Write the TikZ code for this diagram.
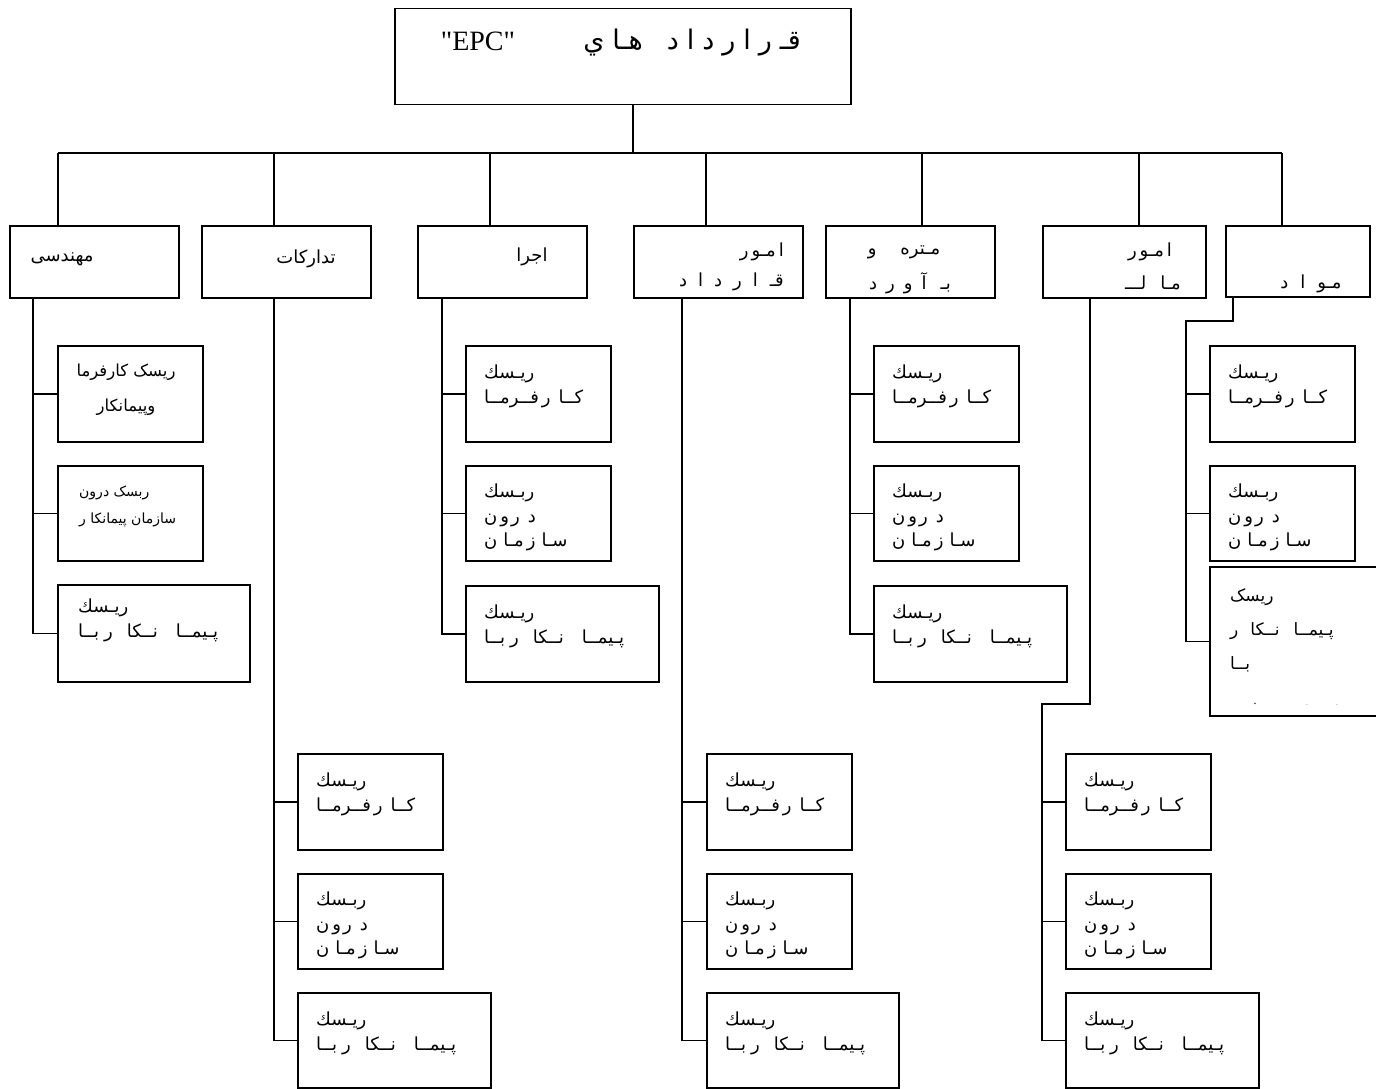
\documentclass[tikz,border=0pt]{standalone}
\usepackage{fontspec}
\setmainfont{Liberation Serif}
\newfontfamily\plainserif[Ligatures=ResetAll]{Liberation Serif}
\newfontfamily\arabicfont[Script=Arabic]{DejaVu Sans}
\TeXXeTstate=1
\usetikzlibrary{calc}
\newcommand\pers[1]{{\arabicfont\beginR #1\endR}}
\newcommand\gp[1][6pt]{\hspace{#1}}
\begin{document}
\begin{tikzpicture}[x=1pt,y=-1pt,
  box/.style={draw,line width=1.5pt,inner sep=0pt,anchor=north west},
  txt/.style={inner sep=0pt,anchor=north west,align=left,font=\arabicfont\fontsize{18}{24.5}\selectfont},
  cat/.style={inner sep=0pt,font=\arabicfont\fontsize{18}{29}\selectfont},
  conn/.style={line width=1.5pt}]
\clip (0,0) rectangle (1376,1089);
% top box
\node[box,minimum width=456pt,minimum height=96pt] (top) at (394,8) {};
\node[inner sep=0pt,font=\plainserif\fontsize{28}{30}\selectfont] (epc) at (478,41) {"EPC"};
\node[inner sep=0pt,font=\arabicfont\fontsize{27}{30}\selectfont] (qh) at (692,43) {\pers{قـ\gp[8pt]ر\gp[8pt]ا\gp[8pt]ر\gp[8pt]د\gp[8pt]ا\gp[8pt]د\gp[24pt]هـا\gp[8pt]ي}};
% category boxes
\node[box,minimum width=169pt,minimum height=72pt] (c1) at (9,225) {};
\node[box,minimum width=169pt,minimum height=72pt] (c2) at (201,225) {};
\node[box,minimum width=169pt,minimum height=72pt] (c3) at (417,225) {};
\node[box,minimum width=169pt,minimum height=72pt] (c4) at (633,225) {};
\node[box,minimum width=169pt,minimum height=72pt] (c5) at (825,225) {};
\node[box,minimum width=163pt,minimum height=72pt] (c6) at (1042,225) {};
\node[box,minimum width=144pt,minimum height=71pt] (c7) at (1225,225) {};
\node[cat] (tc1) at (62,259) {\pers{مهندسی}};
\node[cat] (tc2) at (306,259) {\pers{تدارکات}};
\node[cat] (tc3) at (532,257) {\pers{اجرا}};
\node[cat,anchor=east] (tc4a) at (784,252) {\pers{ا\gp[3pt]مـو\gp[3pt]ر}};
\node[cat,anchor=east] (tc4b) at (784,282) {\pers{قـ\gp[12pt]ا\gp[11pt]ر\gp[11pt]د\gp[11pt]ا\gp[11pt]د}};
\node[cat] (tc5a) at (904,252) {\pers{مـتره\gp[24pt]و}};
\node[cat] (tc5b) at (910,283) {\pers{بـ\gp[14pt]آ\gp[9pt]و\gp[9pt]ر\gp[9pt]د}};
\node[cat] (tc6a) at (1150,252) {\pers{ا\gp[3pt]مـو\gp[3pt]ر}};
\node[cat] (tc6b) at (1153,283) {\pers{مـا\gp[14pt]لـــ}};
\node[cat] (tc7) at (1311,284) {\pers{مـو\gp[12pt]ا\gp[12pt]د}};
% sub boxes
\foreach \c/\x/\y in {1/57/345,3/465/345,5/873/345,7/1209/345,2/297/753,4/706/753,6/1065/753}{
  \node[box,minimum width=145pt,minimum height=96pt] (r\c1) at (\x,\y) {};
  \node[box,minimum width=145pt,minimum height=95pt] (r\c2) at (\x,\y+120) {};
}
\node[box,minimum width=192pt,minimum height=97pt] (r13) at (57,584) {};
\node[box,minimum width=193pt,minimum height=96pt] (r33) at (465,585) {};
\node[box,minimum width=193pt,minimum height=96pt] (r53) at (873,585) {};
\node[box,minimum width=180pt,minimum height=149pt] (r73) at (1209,566) {};
\node[box,minimum width=193pt,minimum height=95pt] (r23) at (297,992) {};
\node[box,minimum width=192pt,minimum height=95pt] (r43) at (706,992) {};
\node[box,minimum width=193pt,minimum height=95pt] (r63) at (1065,992) {};
% texts of sub boxes
\node[inner sep=0pt,align=center,font=\arabicfont\fontsize{16.5}{35}\selectfont] (t11) at (126,390) {\pers{ریسک کارفرما}\\\pers{وپیمانکار}};
\node[txt,font=\arabicfont\fontsize{14}{27}\selectfont] (t12) at (79,486) {\pers{ربسک درون}\\\pers{سازمان پیمانکا ر}};
\node[txt] (t13) at ($(r13.north west)+(21,15)$) {\pers{ريـسك}\\\pers{پـيمــا\gp[18pt]نــكا\gp[14pt]ر\gp[5pt]بــا}};
\foreach \c in {3,5,7,2,4,6}{
  \node[txt] (t\c1) at ($(r\c1.north west)+(19,20)$) {\pers{ريـسك}\\\pers{كــا\gp[8pt]ر\gp[3pt]فــرمــا}};
  \node[txt] (t\c2) at ($(r\c2.north west)+(19,19)$) {\pers{ربـسك}\\\pers{د\gp[8pt]ر\gp[2pt]و\gp[3pt]ن}\\\pers{سـا\gp[6pt]ز\gp[3pt]مـا\gp[6pt]ن}};
}
\foreach \c in {3,5,2,4,6}{
  \node[txt] (t\c3) at ($(r\c3.north west)+(19,20)$) {\pers{ريـسك}\\\pers{پـيمــا\gp[18pt]نــكا\gp[14pt]ر\gp[5pt]بــا}};
}
\node[txt,font=\arabicfont\fontsize{17}{34}\selectfont] (t73) at ($(r73.north west)+(21,22)$) {\pers{ریسک}\\\pers{پـيمــا\gp[14pt]نــكا\gp[12pt]ر}\\\pers{بــا}};
\node[inner sep=0pt,font=\fontsize{12}{12}\selectfont] (dot1) at (1255,704) {.};
\node[inner sep=0pt,text=black!40,font=\fontsize{9}{9}\selectfont] (dot2) at (1307,705) {.};
\node[inner sep=0pt,text=black!40,font=\fontsize{9}{9}\selectfont] (dot3) at (1337,705) {.};
% connectors
\coordinate (bus) at (0,153);
\coordinate (tr) at (633,0);
\foreach \n/\x in {1/58,2/274,3/490,4/706,5/922,6/1139,7/1282}{\coordinate (d\n) at (\x,0);}
\draw[conn] (top.south -| tr) -- (bus -| tr);
\draw[conn] (bus -| d1) -- (bus -| d7);
\foreach \n in {1,...,7}{\draw[conn] (bus -| d\n) -- (c\n.north -| d\n);}
\foreach \c/\x in {1/33,2/274,3/442,4/682,5/850}{
  \coordinate (v\c) at (\x,0);
  \foreach \r in {1,2,3}{\draw[conn] (c\c.south -| v\c) |- (r\c\r.west);}
}
\coordinate (v6a) at (1090,0);
\coordinate (v6b) at (1042,0);
\coordinate (b6) at (0,704);
\foreach \r in {1,2,3}{\draw[conn] (c6.south -| v6a) -- (b6 -| v6a) -- (b6 -| v6b) |- (r6\r.west);}
\coordinate (v7a) at (1233,0);
\coordinate (v7b) at (1186,0);
\coordinate (b7) at (0,321);
\foreach \r in {1,2,3}{\draw[conn] (c7.south -| v7a) -- (b7 -| v7a) -- (b7 -| v7b) |- (r7\r.west);}
\end{tikzpicture}
\end{document}
